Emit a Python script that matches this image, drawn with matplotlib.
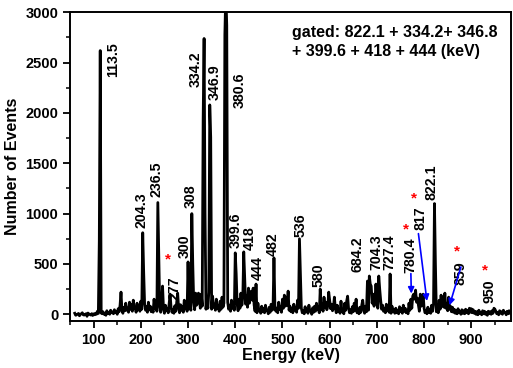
import numpy as np
import matplotlib
matplotlib.use("Agg")
import matplotlib.pyplot as plt

plt.rcParams['font.family'] = ['Liberation Sans', 'DejaVu Sans']
plt.rcParams['font.weight'] = 'bold'

# background counts in the even channels (every 4 keV from 60 keV)
background = [
    10, -5, 8, 0, 15, -8, 5, 12, -3, 6,
    4, 10, 30, 20, 12, 25, 8, 35, 18, 40,
    22, 45, 30, 55, 90, 40, 70, 110, 60, 120,
    95, 140, 70, 110, 85, 130, 60, 100, 75, 120,
    80, 60, 150, 90, 130, 70, 100, 55, 90, 60,
    110, 70, 50, 85, 120, 60, 95, 75, 140, 90,
    130, 100, 170, 120, 210, 110, 150, 200, 160, 130,
    140, 220, 120, 180, 100, 150, 90, 130, 170, 110,
    160, 120, 90, 140, 110, 180, 100, 150, 210, 170,
    230, 180, 260, 200, 140, 90, 60, 110, 45, 80,
    55, 90, 40, 70, 100, 50, 85, 60, 120, 70,
    150, 190, 220, 110, 80, 60, 100, 70, 140, 90,
    60, 40, 75, 50, 90, 35, 65, 80, 110, 60,
    130, 90, 170, 120, 80, 140, 100, 70, 60, 90,
    50, 80, 40, 110, 130, 60, 45, 75, 110, 55,
    40, 70, 90, 50, 80, 110, 180, 280, 200, 150,
    160, 220, 140, 90, 60, 100, 70, 50, 80, 45,
    60, 40, 75, 55, 90, 60, 40, 110, 150, 180,
    150, 120, 90, 200, 100, 60, 40, 70, 45, 90,
    100, 80, 60, 140, 190, 170, 160, 100, 130, 80,
    70, 50, 40, 55, 30, 45, 35, 50, 40, 60,
    55, 45, 30, 25, 40, 20, 35, 30, 20, 30,
    25, 35, 60, 30, 20, 35, 25, 40, 20, 30,
    35, 20, 40,
]
# background counts in the odd channels (every 4 keV from 62 keV)
background_odd = [
    -10, 2, -15, 5, -5, 0, -20, 3, -8, -12,
    -5, 0, 8, -2, 5, 0, -10, 10, 0, 15,
    5, 20, 0, 25, 30, 10, 35, 40, 20, 50,
    30, 60, 20, 45, 30, 50, 15, 40, 20, 45,
    25, 20, 60, 30, 50, 20, 35, 10, 40, 15,
    40, 20, 10, 30, 50, 15, 40, 20, 60, 30,
    60, 40, 70, 45, 90, 50, 60, 80, 70, 50,
    60, 90, 50, 70, 40, 60, 30, 50, 70, 40,
    60, 50, 30, 60, 40, 70, 35, 60, 90, 70,
    100, 70, 110, 80, 60, 30, 15, 40, 10, 25,
    15, 35, 5, 20, 40, 10, 30, 15, 50, 20,
    60, 80, 90, 40, 25, 15, 40, 20, 60, 30,
    15, 5, 25, 10, 35, 0, 20, 30, 45, 15,
    50, 30, 70, 45, 25, 55, 35, 20, 15, 30,
    10, 25, 5, 40, 50, 15, 10, 25, 40, 15,
    5, 20, 30, 10, 25, 40, 70, 110, 80, 60,
    60, 90, 50, 30, 15, 35, 20, 10, 25, 10,
    15, 5, 25, 10, 30, 15, 5, 40, 60, 70,
    60, 45, 30, 80, 35, 15, 5, 20, 10, 30,
    35, 25, 15, 50, 80, 70, 60, 35, 50, 25,
    20, 10, 5, 15, 0, 10, 5, 15, 5, 20,
    15, 10, 0, -5, 10, -5, 5, 0, -10, 5,
    0, 10, 20, 5, -5, 10, 0, 15, -5, 5,
    10, -5,
]

# peak channels (keV) and their counts
peak_energy = [112, 114, 158, 204, 206, 236, 238, 246, 262, 278,
               300, 308, 310, 322, 332, 334, 336, 346, 348,
               378, 380, 382, 400, 402, 418, 420, 434, 438, 444,
               482, 508, 512, 536, 538, 580, 598, 610, 624, 638, 656, 670,
               680, 684, 686, 698, 704, 706, 728,
               778, 782, 786, 798, 822, 824, 844, 852, 896, 950]
peak_counts = [730, 2620, 220, 810, 420, 1110, 600, 280, 200, 210,
               520, 1000, 500, 210, 1930, 2740, 1000, 2080, 1760,
               2780, 3200, 2870, 610, 400, 620, 350, 230, 260, 300,
               560, 170, 230, 750, 400, 250, 220, 170, 130, 180, 150, 140,
               330, 380, 300, 300, 380, 250, 400,
               200, 240, 160, 200, 1100, 500, 210, 170, 60, 50]

label_text = ['113.5', '204.3', '236.5', '277', '300', '308', '334.2', '346.9',
              '380.6', '399.6', '418', '444', '482', '536', '580', '684.2',
              '704.3', '727.4', '780.4', '817', '822.1', '859', '950']
label_x = [142, 202, 233, 271, 292, 306, 316, 356,
           409, 400, 431, 448, 480, 538, 577, 659,
           699, 727, 771, 792, 816, 878, 938]
label_y = [2353, 854, 1162, 139, 556, 1053, 2254, 2125,
           2046, 655, 636, 338, 576, 765, 271, 417,
           437, 437, 407, 834, 1132, 288, 109]

star_x = [257, 762, 779, 870, 929]
star_y = [543, 844, 1149, 626, 437]

# blue arrows: (start energy, start counts) -> (end energy, end counts)
arrow_x0 = [772, 788, 878]
arrow_y0 = [404, 801, 470]
arrow_x1 = [773, 806, 854]
arrow_y1 = [206, 132, 89]

energy = 60 + 2 * np.arange(465)
counts = np.zeros(len(energy))
counts[0::2] = background
counts[1::2] = background_odd
for e, c in zip(peak_energy, peak_counts):
    counts[(e - 60) // 2] = c

fig = plt.figure(figsize=(5.13, 3.68), dpi=100)
ax = fig.add_axes([0.1365, 0.1285, 0.8595, 0.838])
ax.plot(energy, counts, color='black', lw=2.0)

ax.set_xlim(62, 984)
ax.set_ylim(-64, 3000)
ax.set_xticks(np.arange(100, 1000, 100))
ax.set_xticks(np.arange(50, 1000, 50), minor=True)
ax.set_yticks(np.arange(0, 3001, 500))
ax.set_yticks(np.arange(0, 3001, 250), minor=True)
ax.tick_params(which='major', direction='out', length=5, width=1.3, labelsize=10.5)
ax.tick_params(which='minor', direction='out', length=3, width=1.1)
for s in ax.spines.values():
    s.set_linewidth(1.4)

ax.set_xlabel('Energy (keV)', fontsize=11.5, fontweight='bold', labelpad=1)
ax.set_ylabel('Number of Events', fontsize=11.5, fontweight='bold', labelpad=4)

for t, x, y in zip(label_text, label_x, label_y):
    ax.text(x, y, t, rotation=90, ha='center', va='bottom',
            fontsize=10.2, fontweight='bold')

for x, y in zip(star_x, star_y):
    ax.text(x, y, '*', color='red', ha='center', va='center', fontsize=11)

for x0, y0, x1, y1 in zip(arrow_x0, arrow_y0, arrow_x1, arrow_y1):
    ax.annotate('', xy=(x1, y1), xytext=(x0, y0),
                arrowprops=dict(arrowstyle='-|>', color='blue', lw=1.2,
                                mutation_scale=9, shrinkA=0, shrinkB=0))

fig.text(291.7 / 513, 1 - 25 / 368, 'gated: 822.1 + 334.2+ 346.8\n+ 399.6 + 418 + 444 (keV)',
         ha='left', va='top', fontsize=11.5, fontweight='bold', linespacing=1.3)

fig.savefig('out.png', dpi=100)
